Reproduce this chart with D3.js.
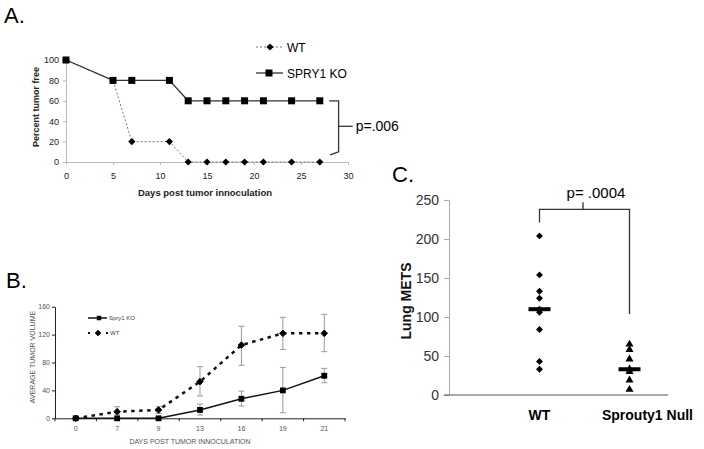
<!DOCTYPE html>
<html><head><meta charset="utf-8">
<script src="https://cdn.jsdelivr.net/npm/d3@7"></script>
<style>body{margin:0;background:#fff} svg{font-family:"Liberation Sans",Arial,sans-serif;display:block}</style>
</head><body><svg id="c" width="704" height="449"></svg>
<script>
// ---------- Panel A data ----------
const daysA = [0,5,7,11,13,15,17,19,21,24,27];
const wtFree = [100,80,20,20,0,0,0,0,0,0,0];
const koFree = [100,80,80,80,60,60,60,60,60,60,60];
const ticksAx = [0,5,10,15,20,25,30];
const ticksAy = [0,20,40,60,80,100];
// ---------- Panel B data ----------
const daysB = ["0","7","9","13","16","19","21"];
const koVol = [0,0,0,12,28,40,61];
const koLo  = [0,0,0,4.7,17.6,8,51];
const koHi  = [0,0,0,20.5,39,73,71.6];
const wtVol = [0,9.5,12,52.5,105,121.8,121.8];
const wtLo  = [0,6,7,32,76,98.8,95.5];
const wtHi  = [0,16.6,16.6,74,132,144.7,149];
const ticksBy = [0,40,80,120,160];
// ---------- Panel C data ----------
const groupsC = ["WT","Sprouty1 Null"];
const wtMets = [204,154,133,124,110,106,84,43,33];
const nullMets = [65,58,46,33,30,19,7];
const ticksCy = [0,50,100,150,200,250];

const svg = d3.select("#c");
const diamond = s => d3.symbol().type(d3.symbolSquare).size(s)();

// ================= PANEL A =================
const gA = svg.append("g");
const xA = d3.scaleLinear().domain([0,30]).range([66,348]);
const yA = d3.scaleLinear().domain([0,100]).range([162,60]);
gA.append("text").attr("x",4).attr("y",23).attr("font-size",22).text("A.");

const axAx = gA.append("g").attr("transform",`translate(0,${yA(0)})`)
  .call(d3.axisBottom(xA).tickValues(ticksAx).tickSize(3).tickPadding(8).tickSizeOuter(0));
const axAy = gA.append("g").attr("transform",`translate(${xA(0)},0)`)
  .call(d3.axisLeft(yA).tickValues(ticksAy).tickSize(3).tickPadding(4).tickSizeOuter(0));
[axAx,axAy].forEach(a=>{a.selectAll("path,line").attr("stroke","#bbb");
  a.selectAll("text").attr("font-size",9).attr("fill","#222").attr("font-family","Liberation Sans, Arial");});
gA.append("text").attr("x",205).attr("y",196).attr("text-anchor","middle")
  .attr("font-size",9.5).attr("font-weight","bold").attr("fill","#222").text("Days post tumor innoculation");
gA.append("text").attr("transform","translate(39,107) rotate(-90)").attr("text-anchor","middle")
  .attr("font-size",9).attr("font-weight","bold").attr("fill","#222").text("Percent tumor free");

const lineA = d3.line().x(d=>xA(d[0])).y(d=>yA(d[1]));
const wtA = daysA.map((d,i)=>[d,wtFree[i]]);
const koA = daysA.map((d,i)=>[d,koFree[i]]);
gA.append("path").attr("d",lineA(wtA)).attr("fill","none").attr("stroke","#777").attr("stroke-width",1).attr("stroke-dasharray","2,2");
gA.append("path").attr("d",lineA(koA)).attr("fill","none").attr("stroke","#333").attr("stroke-width",1.3);
gA.selectAll(".wtA").data(wtA).join("path").attr("d",diamond(26))
  .attr("transform",d=>`translate(${xA(d[0])},${yA(d[1])}) rotate(45)`).attr("fill","#000");
gA.selectAll(".koA").data(koA).join("path").attr("d",d3.symbol().type(d3.symbolSquare).size(49)())
  .attr("transform",d=>`translate(${xA(d[0])},${yA(d[1])})`).attr("fill","#000");
// legend A
gA.append("line").attr("x1",256).attr("x2",283).attr("y1",47).attr("y2",47).attr("stroke","#777").attr("stroke-dasharray","2,2");
gA.append("path").attr("d",diamond(26)).attr("transform","translate(270,47) rotate(45)");
gA.append("text").attr("x",287).attr("y",51.5).attr("font-size",12).text("WT");
gA.append("line").attr("x1",256).attr("x2",283).attr("y1",73).attr("y2",73).attr("stroke","#333").attr("stroke-width",1.3);
gA.append("path").attr("d",d3.symbol().type(d3.symbolSquare).size(49)()).attr("transform","translate(269,73)");
gA.append("text").attr("x",287).attr("y",77.5).attr("font-size",12).text("SPRY1 KO");
// bracket A
const brA = [[28,60],[29,60],[29,10],[28.1,7]];
gA.append("path").attr("d",d3.line().x(d=>xA(d[0])).y(d=>yA(d[1]))(brA)).attr("fill","none").attr("stroke","#333").attr("stroke-width",1.3);
gA.append("line").attr("x1",xA(29)).attr("x2",xA(30.5)).attr("y1",yA(35)).attr("y2",yA(35)).attr("stroke","#333").attr("stroke-width",1.3);
gA.append("text").attr("x",xA(30.5)+3).attr("y",yA(35)+4.5).attr("font-size",14).text("p=.006");

// ================= PANEL B =================
const gB = svg.append("g");
const xB = d3.scaleBand().domain(daysB).range([55,345]);
const cx = d => xB(d)+xB.bandwidth()/2;
const yB = d3.scaleLinear().domain([0,160]).range([418.3,306.7]);
gB.append("text").attr("x",6).attr("y",288).attr("font-size",22).text("B.");
const axBx = gB.append("g").attr("transform",`translate(0,${yB(0)})`)
  .call(d3.axisBottom(xB).tickSize(0).tickPadding(8).tickSizeOuter(0));
const bounds = daysB.map(d=>xB(d)).concat([xB.range()[1]]);
gB.selectAll(".bt").data(bounds).join("line").attr("x1",d=>d).attr("x2",d=>d)
  .attr("y1",yB(0)).attr("y2",yB(0)+3).attr("stroke","#222");
const axBy = gB.append("g").attr("transform",`translate(${xB.range()[0]},0)`)
  .call(d3.axisLeft(yB).tickValues(ticksBy).tickSize(3).tickPadding(2).tickSizeOuter(0));
[axBx,axBy].forEach(a=>{a.selectAll("path,line").attr("stroke","#222");
  a.selectAll("text").attr("font-size",7).attr("fill","#555").attr("font-family","Liberation Sans, Arial");});
gB.append("text").attr("x",190).attr("y",444).attr("text-anchor","middle").attr("font-size",7).attr("fill","#555").text("DAYS POST TUMOR INNOCULATION");
gB.append("text").attr("transform","translate(35,357) rotate(-90)").attr("text-anchor","middle").attr("font-size",7).attr("fill","#555").text("AVERAGE TUMOR VOLUME");

function errBars(vals, lo, hi){
  daysB.forEach((d,i)=>{
    if (hi[i]-lo[i] <= 0) return;
    const x = cx(d);
    gB.append("line").attr("x1",x).attr("x2",x).attr("y1",yB(lo[i])).attr("y2",yB(hi[i])).attr("stroke","#999");
    [lo[i],hi[i]].forEach(v=>gB.append("line").attr("x1",x-3).attr("x2",x+3).attr("y1",yB(v)).attr("y2",yB(v)).attr("stroke","#999"));
  });
}
errBars(wtVol,wtLo,wtHi);
errBars(koVol,koLo,koHi);
const lineB = d3.line().x((d,i)=>cx(daysB[i])).y(d=>yB(d));
gB.append("path").attr("d",lineB(wtVol)).attr("fill","none").attr("stroke","#111").attr("stroke-width",2.5).attr("stroke-dasharray","3.5,4.5");
gB.append("path").attr("d",lineB(koVol)).attr("fill","none").attr("stroke","#111").attr("stroke-width",1.5);
gB.selectAll(".wb").data(wtVol).join("path").attr("d",diamond(22))
  .attr("transform",(d,i)=>`translate(${cx(daysB[i])},${yB(d)}) rotate(45)`).attr("fill","#000")
  .attr("stroke","#000").attr("stroke-width",0.8).attr("stroke-linejoin","round");
gB.selectAll(".kb").data(koVol).join("path").attr("d",d3.symbol().type(d3.symbolSquare).size(34)())
  .attr("transform",(d,i)=>`translate(${cx(daysB[i])},${yB(d)})`).attr("fill","#000");
// legend B
gB.append("line").attr("x1",88).attr("x2",107).attr("y1",318).attr("y2",318).attr("stroke","#111").attr("stroke-width",1.5);
gB.append("path").attr("d",d3.symbol().type(d3.symbolSquare).size(20)()).attr("transform","translate(99,318)");
gB.append("text").attr("x",109).attr("y",320).attr("font-size",6).attr("fill","#444").text("Spry1 KO");
gB.append("line").attr("x1",88).attr("x2",108).attr("y1",333).attr("y2",333).attr("stroke","#111").attr("stroke-width",2).attr("stroke-dasharray","2,7");
gB.append("path").attr("d",diamond(16)).attr("transform","translate(98,333) rotate(45)").attr("stroke","#000").attr("stroke-width",0.8);
gB.append("text").attr("x",110).attr("y",335).attr("font-size",6).attr("fill","#444").text("WT");

// ================= PANEL C =================
const gC = svg.append("g");
const xC = d3.scalePoint().domain(groupsC).range([539.5,629.5]);
const yC = d3.scaleLinear().domain([0,250]).range([395,200]);
const leftC = 449, rightC = 668;
gC.append("text").attr("x",392).attr("y",182).attr("font-size",22).text("C.");
const axCy = gC.append("g").attr("transform",`translate(${leftC},0)`)
  .call(d3.axisLeft(yC).tickValues(ticksCy).tickSize(5).tickPadding(5).tickSizeOuter(0));
axCy.selectAll("path,line").attr("stroke","#aaa");
axCy.selectAll("text").attr("font-size",14).attr("fill","#333").attr("font-family","Liberation Sans, Arial");
gC.append("line").attr("x1",leftC-5).attr("x2",rightC).attr("y1",yC(0)).attr("y2",yC(0)).attr("stroke","#555").attr("stroke-width",1.2);
gC.append("text").attr("transform","translate(411,301) rotate(-90)").attr("text-anchor","middle")
  .attr("font-size",14).attr("font-weight","bold").attr("fill","#111").text("Lung METS");
gC.append("text").attr("x",xC("WT")).attr("y",420).attr("text-anchor","middle").attr("font-size",14).attr("font-weight","bold").text(groupsC[0]);
gC.append("text").attr("x",xC("Sprouty1 Null")+18).attr("y",420).attr("text-anchor","middle").attr("font-size",14).attr("font-weight","bold").text(groupsC[1]);

gC.selectAll(".wc").data(wtMets).join("path").attr("d",diamond(24))
  .attr("transform",d=>`translate(${xC("WT")},${yC(d)}) rotate(45)`).attr("fill","#000");
gC.selectAll(".nc").data(nullMets).join("path").attr("d",d3.symbol().type(d3.symbolTriangle).size(28)())
  .attr("transform",d=>`translate(${xC("Sprouty1 Null")},${yC(d)})`).attr("fill","#000");
[[wtMets,"WT"],[nullMets,"Sprouty1 Null"]].forEach(([arr,g])=>{
  const m = d3.median(arr);
  gC.append("rect").attr("x",xC(g)-11).attr("y",yC(m)-2).attr("width",22).attr("height",4).attr("fill","#000");
});
// bracket C
const brTop = 238, brL = 221, brR = 104;
gC.append("path").attr("d",d3.line()([[xC("WT"),yC(brL)],[xC("WT"),yC(brTop)],[xC("Sprouty1 Null"),yC(brTop)],[xC("Sprouty1 Null"),yC(brR)]]))
  .attr("fill","none").attr("stroke","#333").attr("stroke-width",1.3);
const midC = (xC("WT")+xC("Sprouty1 Null"))/2 - 1.5;
gC.append("line").attr("x1",midC).attr("x2",midC).attr("y1",yC(brTop)).attr("y2",yC(brTop)-7).attr("stroke","#333").attr("stroke-width",1.3);
gC.append("text").attr("x",596).attr("y",198).attr("text-anchor","middle").attr("font-size",15).text("p= .0004");
</script></body></html>
